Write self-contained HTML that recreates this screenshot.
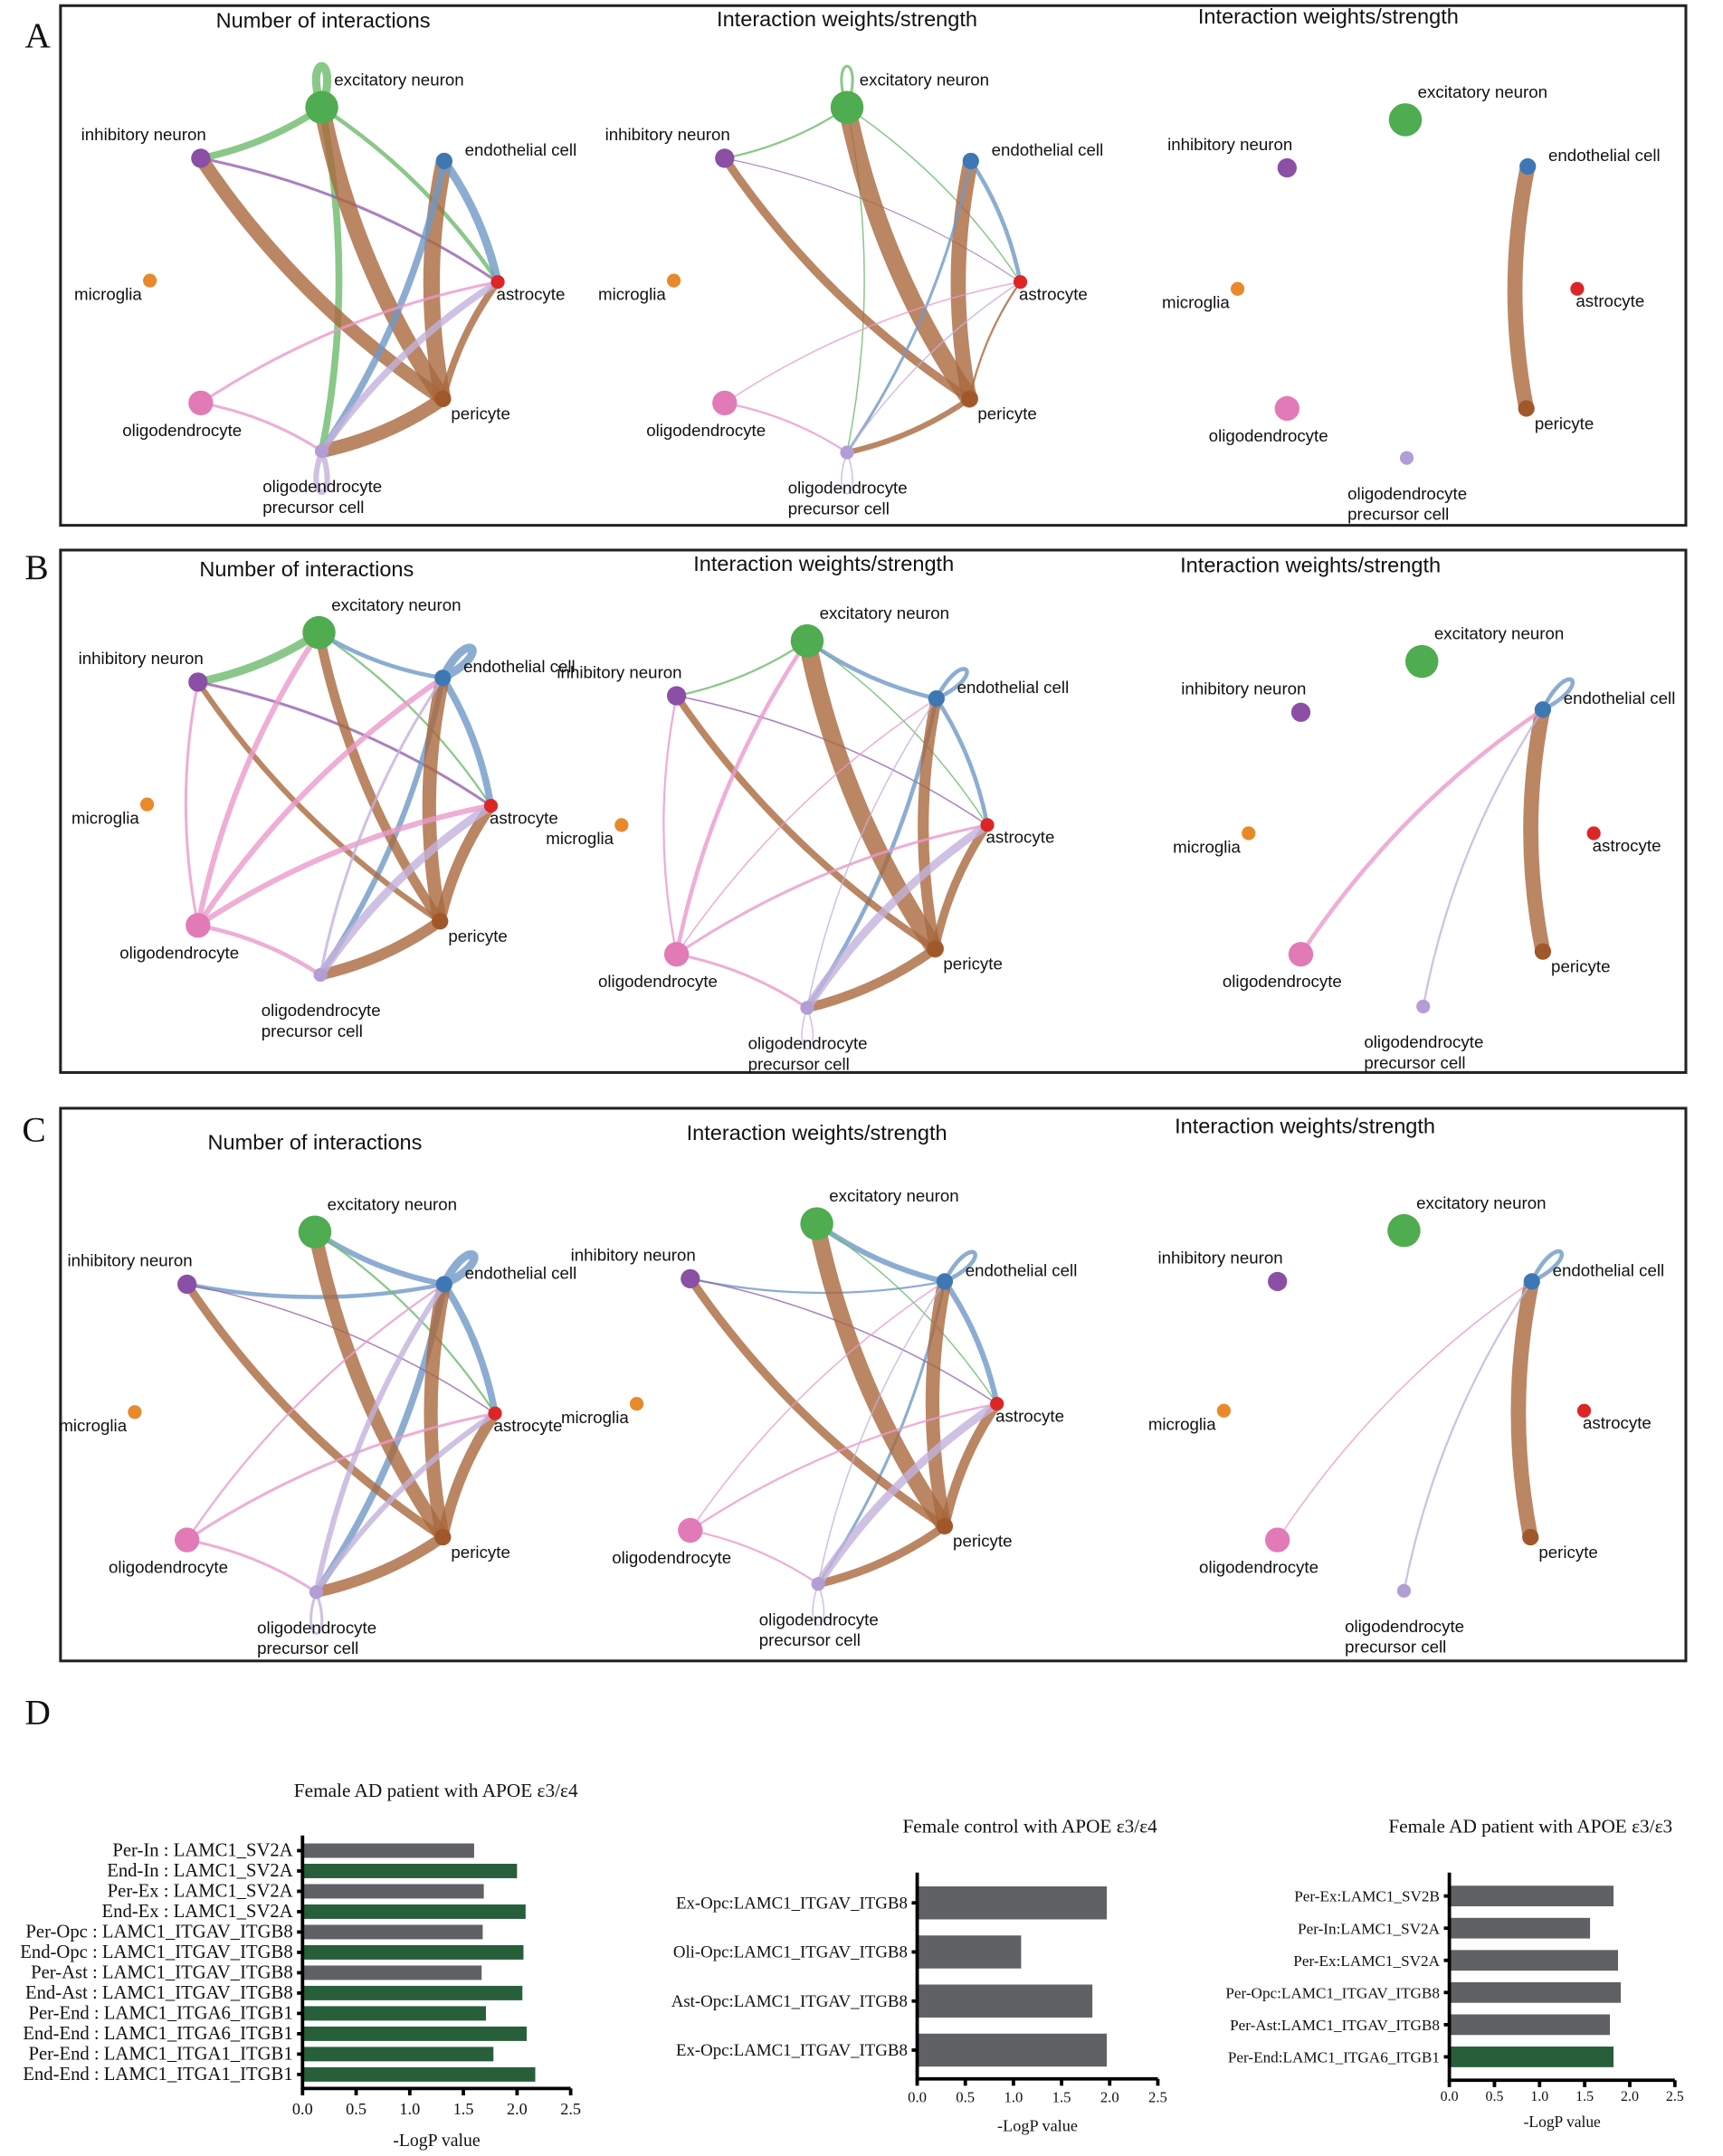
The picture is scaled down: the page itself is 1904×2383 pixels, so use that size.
<!DOCTYPE html>
<html><head><meta charset="utf-8"><style>
html,body{margin:0;padding:0;background:#fff;}
svg{display:block;}
.nl{font-family:"Liberation Sans",sans-serif;font-size:12.3px;fill:#111;}
.tt{font-family:"Liberation Sans",sans-serif;font-size:15.5px;fill:#111;}
.pl{font-family:"Liberation Serif",serif;font-size:26px;fill:#111;}
.bl{font-family:"Liberation Serif",serif;fill:#111;}
</style></head><body>
<svg id="fig" width="1904" height="2383" viewBox="0 0 1253 1568" xmlns="http://www.w3.org/2000/svg">
<rect width="1253" height="1568" fill="#fff"/>
<g id="frames"></g>
<g id="nets"></g>
<g id="bars"></g>
</svg>
<script>
// ---------- network data ----------
const cellNames=["excitatory neuron","inhibitory neuron","endothelial cell","microglia","astrocyte","oligodendrocyte","pericyte","oligodendrocyte precursor cell"];
const cellKeys=["ex","inh","end","mic","ast","oli","per","opc"];
const cellColors={ex:"#4fac50",inh:"#8b4fa6",end:"#3e78b4",mic:"#e8892b",ast:"#dd2526",oli:"#e27ab8",per:"#a0582b",opc:"#b29ed4"};
const edgeColors={ex:"#6dba6c",inh:"#9462ae",end:"#6f98c6",mic:"#e8892b",ast:"#dd2526",oli:"#ea9acb",per:"#a9683d",opc:"#c3b1dc"};
const nodeSizes=[12,7,6,5,5,9,6,5];
const panelTitles=["Number of interactions","Interaction weights/strength","Interaction weights/strength"];
const panelNodes=[
 [[234,78],[146,115],[323,117],[109,204],[362,205],[146,293],[322,290],[234,328]],
 [[616,78],[527,115],[706,117],[490,204],[742,205],[527,293],[705,290],[616,329]],
 [[1022,87],[936,122],[1111,121],[900,210],[1147,210],[936,297],[1110,297],[1023,333]],
 [[232,460],[144,496],[322,493],[107,585],[357,586],[144,673],[320,670],[233,709]],
 [[587,466],[492,506],[681,508],[452,600],[718,600],[492,694],[680,690],[587,733]],
 [[1034,481],[946,518],[1122,516],[908,606],[1159,606],[946,694],[1122,692],[1035,732]],
 [[229,896],[136,934],[323,934],[98,1027],[360,1028],[136,1120],[322,1118],[230,1158]],
 [[594,890],[502,930],[687,932],[463,1021],[725,1021],[502,1113],[687,1110],[595,1152]],
 [[1021,895],[929,932],[1114,932],[890,1026],[1152,1026],[929,1120],[1113,1118],[1021,1157]]
];
const panelTitlePos=[[235,15],[616,14],[966,12],[223,414],[599,410],[953,411],[229,831],[594,824],[949,819]];
const panelEdges=[
 [["ex","ex",6],["ex","inh",5],["ex","ast",3],["ex","opc",5],["inh","ast",2],["per","inh",10],["per","ex",12],["per","end",12],["end","ast",6],["end","opc",5],["per","ast",5],["per","opc",10],["oli","ast",2],["oli","opc",2],["opc","ast",5],["opc","opc",4]],
 [["ex","ex",2],["ex","inh",1.5],["ex","ast",1],["ex","opc",1],["inh","ast",0.7],["per","inh",6],["per","ex",13],["per","end",11],["end","ast",3],["end","opc",2],["per","ast",1.5],["per","opc",4],["oli","ast",1],["oli","opc",1.5],["opc","ast",1],["opc","opc",1]],
 [["per","end",11]],
 [["ex","inh",6],["ex","ast",1.5],["inh","ast",2],["end","end",6],["end","ex",3],["end","ast",5],["end","opc",4],["per","ex",7],["per","inh",4],["per","end",10],["per","ast",8],["per","opc",8],["oli","ex",4],["oli","inh",2],["oli","end",4],["oli","ast",4],["oli","opc",3],["opc","ast",6],["opc","end",2]],
 [["ex","inh",1.5],["ex","ast",1],["inh","ast",1],["end","end",3],["end","ex",3],["end","ast",3],["end","opc",3],["per","ex",13],["per","inh",5],["per","end",8],["per","ast",6],["per","opc",7],["oli","ex",3],["oli","inh",1.5],["oli","end",1],["oli","ast",2],["oli","opc",2],["opc","ast",6],["opc","end",1],["opc","opc",1]],
 [["end","end",3],["per","end",11],["oli","end",3],["opc","end",1.5]],
 [["end","inh",3],["end","end",6],["end","ex",4],["end","ast",5],["end","opc",5],["ex","ast",1.5],["inh","ast",1],["per","ex",10],["per","inh",6],["per","end",10],["per","ast",8],["per","opc",8],["oli","end",1.5],["oli","ast",2],["oli","opc",2],["opc","end",4],["opc","ast",4],["opc","opc",2]],
 [["end","inh",1.5],["end","end",3],["end","ex",4],["end","ast",4],["end","opc",2],["ex","ast",1],["inh","ast",1],["per","ex",12],["per","inh",6],["per","end",10],["per","ast",7],["per","opc",6],["oli","end",1],["oli","ast",1.5],["oli","opc",1.5],["opc","end",1],["opc","ast",6],["opc","opc",1]],
 [["end","end",3],["per","end",11],["oli","end",1],["opc","end",1.5]]
];
const NS="http://www.w3.org/2000/svg";
function mk(tag,attrs,parent){const e=document.createElementNS(NS,tag);for(const k in attrs)e.setAttribute(k,attrs[k]);parent.appendChild(e);return e;}
const frames=document.getElementById('frames');
const boxes=[[44,4,1182,378],[44,400,1182,380],[44,806,1182,402]];
boxes.forEach((b,i)=>{
 const r=mk('rect',{x:b[0],y:b[1],width:b[2],height:b[3],fill:'none',stroke:'#222','stroke-width':2},frames);
 
 
});
[["A",18,34],["B",18,421],["C",16,830],["D",18,1254]].forEach(p=>{
 const t=mk('text',{x:p[1],y:p[2],class:'pl'},frames);t.textContent=p[0];
 
 
});
const nets=document.getElementById('nets');
const labelOff={ex:[9,-16,'start'],inh:[-87,-13,'start'],end:[15,-4,'start'],mic:[-55,14,'start'],ast:[-1,13,'start'],oli:[-57,24,'start'],per:[6,15,'start'],opc:[-43,30,'start']};
panelNodes.forEach((nodes,pi)=>{
 const g=mk('g',{},nets);
 
 
 const tp=panelTitlePos[pi];
 const tt=mk('text',{x:tp[0],y:tp[1]+5,class:'tt','text-anchor':'middle'},g);tt.textContent=panelTitles[pi%3];
 
 
 const pos={};cellKeys.forEach((k,i)=>pos[k]=nodes[i]);
 let cx=0,cy=0;nodes.forEach(n=>{cx+=n[0];cy+=n[1];});cx/=8;cy/=8;
 const eg=mk('g',{},g);
 panelEdges[pi].forEach(e=>{
  const s=pos[e[0]],t=pos[e[1]],w=e[2];let d;
  if(e[0]===e[1]){
   let dx=s[0]-cx,dy=s[1]-cy;const L=Math.hypot(dx,dy);dx/=L;dy/=L;
   const px=-dy,py=dx,R=40;
   const ax=s[0]+dx*R+px*14,ay=s[1]+dy*R+py*14,bx=s[0]+dx*R-px*14,by=s[1]+dy*R-py*14;
   d=`M${s[0]},${s[1]} C${ax},${ay} ${bx},${by} ${s[0]},${s[1]}`;
  } else {
   const mx=(s[0]+t[0])/2,my=(s[1]+t[1])/2,dx=t[0]-s[0],dy=t[1]-s[1];
   const k=-0.1;const qx=mx-dy*k,qy=my+dx*k;
   d=`M${s[0]},${s[1]} Q${qx},${qy} ${t[0]},${t[1]}`;
  }
  const p=mk('path',{d:d,fill:'none',stroke:edgeColors[e[0]],'stroke-width':w,'stroke-opacity':0.8,'stroke-linecap':'round'},eg);
  
  
 });
 cellKeys.forEach((k,i)=>{
  const n=pos[k];
  const c=mk('circle',{cx:n[0],cy:n[1],r:nodeSizes[i],fill:cellColors[k]},g);
  
  
  const o=labelOff[k];
  const t=mk('text',{x:n[0]+o[0],y:n[1]+o[1],class:'nl'},g);
  if(k==='opc'){t.textContent='oligodendrocyte';const t2=mk('text',{x:n[0]+o[0],y:n[1]+o[1]+15,class:'nl'},g);t2.textContent='precursor cell';
   
   }
  else t.textContent=cellNames[i];
  
  
 });
});
// ---------- bar chart data ----------
const bar1Labels=["Per-In  : LAMC1_SV2A","End-In  : LAMC1_SV2A","Per-Ex  : LAMC1_SV2A","End-Ex  : LAMC1_SV2A","Per-Opc  : LAMC1_ITGAV_ITGB8","End-Opc  : LAMC1_ITGAV_ITGB8","Per-Ast  : LAMC1_ITGAV_ITGB8","End-Ast  : LAMC1_ITGAV_ITGB8","Per-End  : LAMC1_ITGA6_ITGB1","End-End  : LAMC1_ITGA6_ITGB1","Per-End  : LAMC1_ITGA1_ITGB1","End-End  : LAMC1_ITGA1_ITGB1"];
const bar1Values=[1.6,2.0,1.69,2.08,1.68,2.06,1.67,2.05,1.71,2.09,1.78,2.17];
const bar1Green=[0,1,0,1,0,1,0,1,1,1,1,1];
const bar2Labels=["Ex-Opc:LAMC1_ITGAV_ITGB8","Oli-Opc:LAMC1_ITGAV_ITGB8","Ast-Opc:LAMC1_ITGAV_ITGB8","Ex-Opc:LAMC1_ITGAV_ITGB8"];
const bar2Values=[1.97,1.08,1.82,1.97];
const bar2Green=[0,0,0,0];
const bar3Labels=["Per-Ex:LAMC1_SV2B","Per-In:LAMC1_SV2A","Per-Ex:LAMC1_SV2A","Per-Opc:LAMC1_ITGAV_ITGB8","Per-Ast:LAMC1_ITGAV_ITGB8","Per-End:LAMC1_ITGA6_ITGB1"];
const bar3Values=[1.82,1.56,1.87,1.9,1.78,1.82];
const bar3Green=[0,0,0,0,0,1];
const tickVals=[0,0.5,1.0,1.5,2.0,2.5];
const barTitles=["Female AD patient with APOE ε3/ε4","Female control with APOE ε3/ε4","Female AD patient with APOE ε3/ε3"];
const barsG=document.getElementById('bars');
function barChart(cfg,labels,values,green,title,idx){
 const g=mk('g',{},barsG);
 
 
 const xs=v=>cfg.x0+(cfg.x1-cfg.x0)*v/2.5;
 const ys=i=>cfg.yTop+i*cfg.step;
 const t=mk('text',{x:cfg.tx,y:cfg.ty,class:'bl','font-size':14,'text-anchor':'middle'},g);t.textContent=title;
 
 
 values.forEach((v,i)=>{
  const r=mk('rect',{x:xs(0)+1,y:ys(i)-cfg.bh/2,width:xs(v)-xs(0)-1,height:cfg.bh,fill:green[i]?'#285f3b':'#606165'},g);
  
  
  const tk=mk('line',{x1:xs(0)-4,x2:xs(0),y1:ys(i),y2:ys(i),stroke:'#000','stroke-width':2.5},g);
  
  
  const l=mk('text',{x:xs(0)-7,y:ys(i)+4,class:'bl','font-size':cfg.fs,'text-anchor':'end'},g);
  l.setAttribute('xml:space','preserve');
  l.textContent=labels[i];
  
  
 });
 const ax=mk('path',{d:`M${xs(0)},${cfg.yAxTop} V${cfg.yAx} H${xs(2.5)}`,fill:'none',stroke:'#000','stroke-width':2.5},g);
 
 
 tickVals.forEach(v=>{
  const tk=mk('line',{x1:xs(v),x2:xs(v),y1:cfg.yAx,y2:cfg.yAx+5,stroke:'#000','stroke-width':2.5},g);
  
  
  const tl=mk('text',{x:xs(v),y:cfg.yAx+cfg.tkOff,class:'bl','font-size':cfg.tfs,'text-anchor':'middle'},g);tl.textContent=v.toFixed(1);
  
  
 });
 const xt=mk('text',{x:(xs(0)+xs(2.5))/2,y:cfg.yAx+cfg.titOff,class:'bl','font-size':cfg.tfs+1,'text-anchor':'middle'},g);xt.textContent='-LogP value';
 
 
}
barChart({x0:220,x1:415,yTop:1346,step:14.8,bh:10.5,yAxTop:1335,yAx:1519,tx:317,ty:1307,fs:13.6,tfs:12,tkOff:19,titOff:42},bar1Labels,bar1Values,bar1Green,barTitles[0],1);
barChart({x0:667,x1:842,yTop:1384,step:35.7,bh:24,yAxTop:1362,yAx:1512,tx:749,ty:1333,fs:12.4,tfs:11,tkOff:17,titOff:38},bar2Labels,bar2Values,bar2Green,barTitles[1],2);
barChart({x0:1054,x1:1218,yTop:1379,step:23.4,bh:15,yAxTop:1362,yAx:1513,tx:1113,ty:1333,fs:11.3,tfs:10.5,tkOff:15,titOff:34},bar3Labels,bar3Values,bar3Green,barTitles[2],3);
</script>
</body></html>
